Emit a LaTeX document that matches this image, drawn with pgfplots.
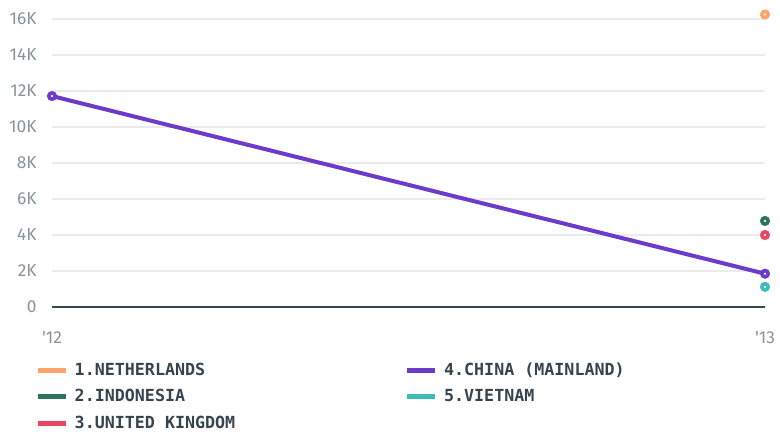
\documentclass[border=0pt]{standalone}
\usepackage{pgfplots}
\pgfplotsset{compat=1.18}
\usepackage{fontspec}
\setmainfont{Fira Sans}
\newfontfamily\legfont{DejaVu Sans Mono}
\definecolor{nl}{HTML}{FFA26B}
\definecolor{idn}{HTML}{2D7360}
\definecolor{uk}{HTML}{E8475F}
\definecolor{cn}{HTML}{6C3BC9}
\definecolor{vn}{HTML}{3DBDB8}
\definecolor{gridc}{HTML}{EBEBEB}
\definecolor{tickc}{HTML}{8A9399}
\definecolor{legc}{HTML}{37444D}
\definecolor{axc}{HTML}{37474F}
\pgfplotsset{legline/.style={line width=3.6pt, no marks,
  legend image code/.code={\draw (0pt,0pt) -- (21pt,0pt); \path (24pt,0pt);}}}
\begin{document}
\begin{tikzpicture}
\useasboundingbox (-39pt,-93pt) rectangle (546pt,230.25pt);
\begin{axis}[
  at={(0,0)}, anchor=south west, scale only axis,
  width=534.75pt, height=216pt,
  xmin=0, xmax=1, ymin=0, ymax=16000,
  clip=false,
  scaled y ticks=false,
  axis lines*=left, separate axis lines,
  x axis line style={draw=axc, line width=2.2pt},
  y axis line style={draw=none},
  ymajorgrids, grid style={draw=gridc, line width=0.8pt},
  major tick length=0pt,
  ytick={0,2000,4000,6000,8000,10000,12000,14000,16000},
  yticklabels={0,2K,4K,6K,8K,10K,12K,14K,16K},
  xtick={0,1}, xticklabels={\textquotesingle12,\textquotesingle13},
  tick label style={font=\fontsize{13}{15}\selectfont, text=tickc},
  yticklabel style={xshift=-8pt},
  xticklabel style={yshift=-14.75pt},
  legend columns=2,
  legend cell align=left,
  legend style={at={(0,0)}, anchor=north west, xshift=-12.75pt, yshift=-39.75pt,
    draw=none, fill=none, inner sep=0pt,
    font=\legfont\bfseries\fontsize{12.5}{14}\selectfont, text=legc,
    row sep=5pt,
    /tikz/every even column/.append style={column sep=125pt}},
]
\addlegendimage{legline, color=nl}
\addlegendentry{1.NETHERLANDS}
\addlegendimage{legline, color=cn}
\addlegendentry{4.CHINA (MAINLAND)}
\addlegendimage{legline, color=idn}
\addlegendentry{2.INDONESIA}
\addlegendimage{legline, color=vn}
\addlegendentry{5.VIETNAM}
\addlegendimage{legline, color=uk}
\addlegendentry{3.UNITED KINGDOM}

\addplot[forget plot, color=cn, line width=3pt, mark=*, mark size=3.6pt, mark options={line width=0.4pt}] coordinates {(0,11720) (1,1850)};
\addplot[forget plot, only marks, color=nl, mark=*, mark size=3.6pt, mark options={line width=0.4pt}] coordinates {(1,16250)};
\addplot[forget plot, only marks, color=idn, mark=*, mark size=3.6pt, mark options={line width=0.4pt}] coordinates {(1,4780)};
\addplot[forget plot, only marks, color=uk, mark=*, mark size=3.6pt, mark options={line width=0.4pt}] coordinates {(1,4000)};
\addplot[forget plot, only marks, color=vn, mark=*, mark size=3.6pt, mark options={line width=0.4pt}] coordinates {(1,1120)};
\addplot[forget plot, only marks, color=white, mark=*, mark size=0.6pt] coordinates {(0,11720) (1,1850) (1,16250) (1,4780) (1,4000) (1,1120)};
\end{axis}
\end{tikzpicture}
\end{document}
